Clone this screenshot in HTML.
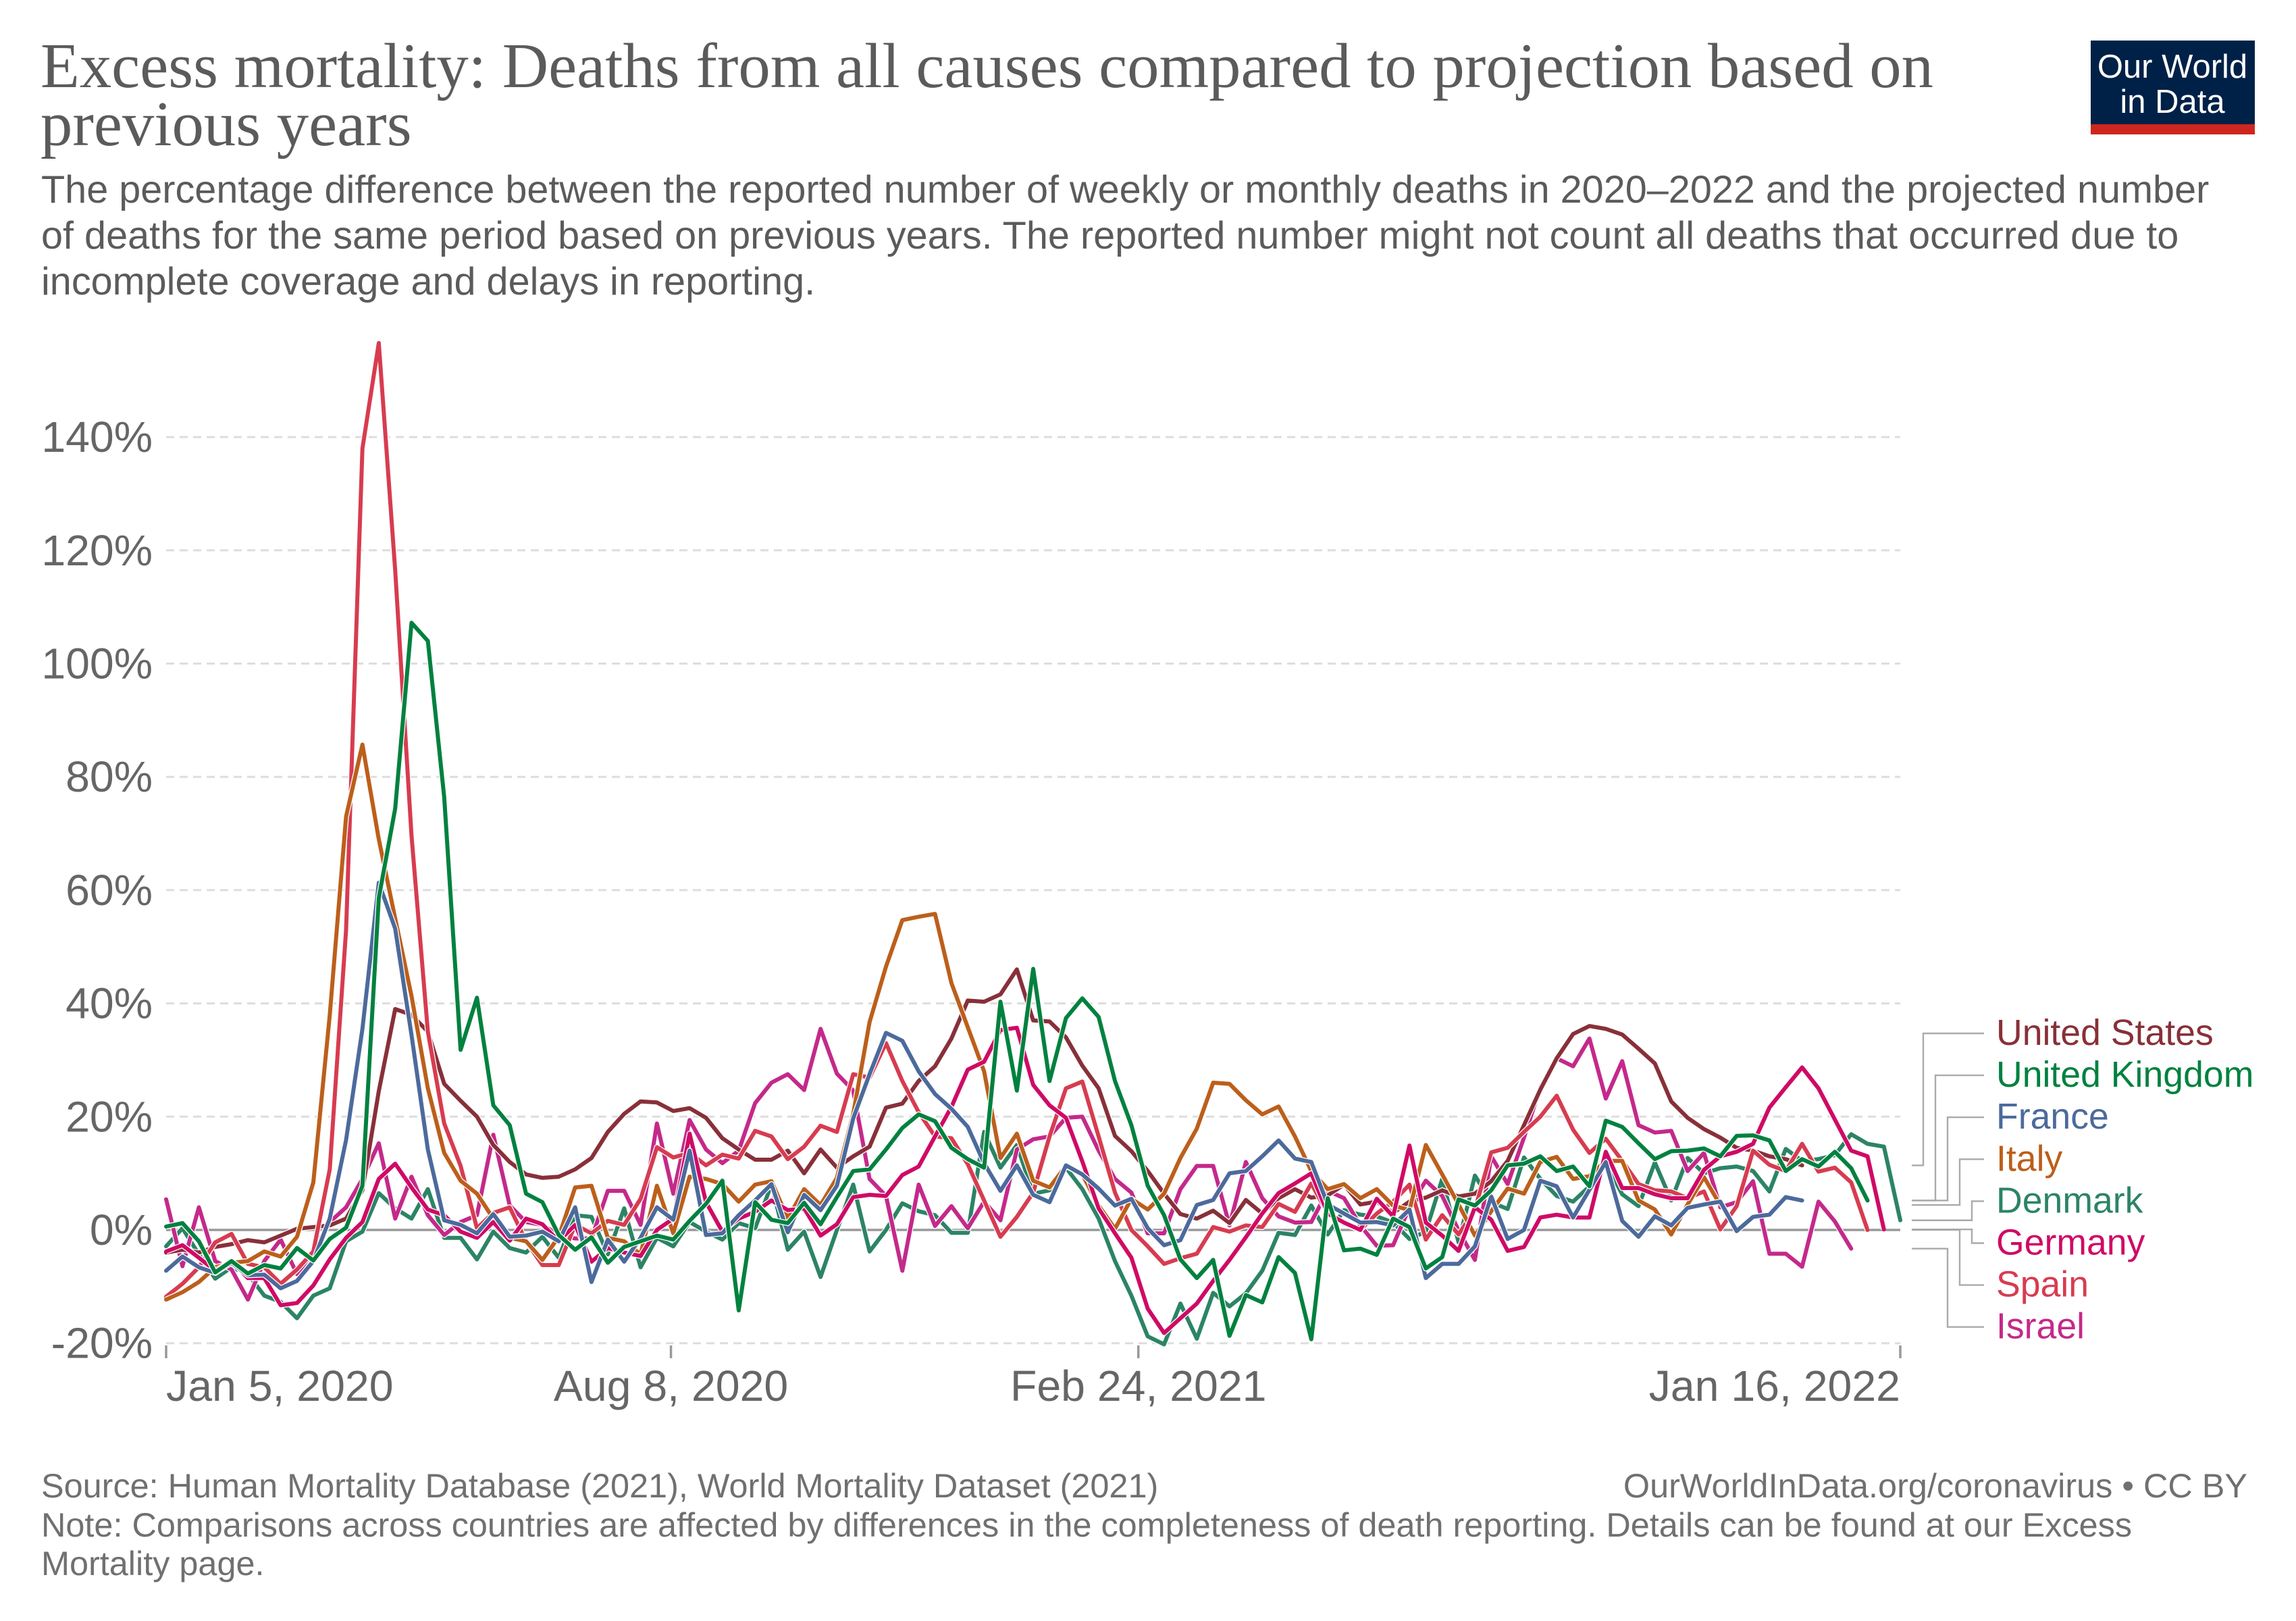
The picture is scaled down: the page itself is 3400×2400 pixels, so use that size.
<!DOCTYPE html>
<html lang="en">
<head>
<meta charset="utf-8">
<title>Excess mortality</title>
<style>
html,body{margin:0;padding:0;background:#fff;width:3400px;height:2400px;overflow:hidden}
svg{display:block}
.title{font-family:"Liberation Serif",serif;font-size:94.7px;fill:#5b5b5b}
.sub{font-family:"Liberation Sans",sans-serif;font-size:57.6px;fill:#5b5b5b}
.foot{font-family:"Liberation Sans",sans-serif;font-size:50.4px;fill:#707070}
.tick{font-family:"Liberation Sans",sans-serif;font-size:64.4px;fill:#666}
.legend{font-family:"Liberation Sans",sans-serif;font-size:53.6px}
.logo{font-family:"Liberation Sans",sans-serif;font-size:49px;fill:#fff;text-anchor:middle}
</style>
</head>
<body>
<svg id="chart" xmlns="http://www.w3.org/2000/svg" width="3400" height="2400" viewBox="0 0 3400 2400">
  <rect x="0" y="0" width="3400" height="2400" fill="#fff"/>
  <text class="title" x="60" y="129">Excess mortality: Deaths from all causes compared to projection based on</text>
  <text class="title" x="60" y="215">previous years</text>
  <text class="sub" x="61" y="300">The percentage difference between the reported number of weekly or monthly deaths in 2020–2022 and the projected number</text>
  <text class="sub" x="61" y="368">of deaths for the same period based on previous years. The reported number might not count all deaths that occurred due to</text>
  <text class="sub" x="61" y="436">incomplete coverage and delays in reporting.</text>
  <g>
    <rect x="3096" y="60" width="243" height="139" fill="#002147"/>
    <rect x="3096" y="184" width="243" height="15" fill="#ce261e"/>
    <text class="logo" x="3217" y="115">Our World</text>
    <text class="logo" x="3217" y="167">in Data</text>
  </g>
  <g id="grid"></g>
  <g id="xaxis"></g>
  <g id="marks"></g>
  <g id="legend"></g>
  <text class="foot" x="61" y="2217">Source: Human Mortality Database (2021), World Mortality Dataset (2021)</text>
  <text class="foot" x="3328" y="2217" text-anchor="end">OurWorldInData.org/coronavirus • CC BY</text>
  <text class="foot" x="61" y="2275">Note: Comparisons across countries are affected by differences in the completeness of death reporting. Details can be found at our Excess</text>
  <text class="foot" x="61" y="2332">Mortality page.</text>
</svg>
<script>
const yTickValues = [-20, 0, 20, 40, 60, 80, 100, 120, 140];
const yTickLabels = ["-20%", "0%", "20%", "40%", "60%", "80%", "100%", "120%", "140%"];
const xTickDays = [0, 216, 416, 742];
const xTickLabels = ["Jan 5, 2020", "Aug 8, 2020", "Feb 24, 2021", "Jan 16, 2022"];
const daysPerPoint = 7;

const seriesNames = ["United States", "United Kingdom", "France", "Italy", "Denmark", "Germany", "Spain", "Israel"];

const unitedStates = [-4,-3.5,-4,-3,-2.5,-1.8,-2.2,-1,0.2,0.5,0.8,2,7,24.5,39,38,35,25.8,22.8,20,15,12,9.8,9.2,9.4,10.7,12.7,17.3,20.5,22.7,22.5,21,21.5,
19.8,16.2,14.2,12.4,12.4,14,10,14.2,11,13,14.7,21.6,22.3,26.3,28.9,33.8,40.5,40.3,41.6,46,37,36.8,34,29,25,16.6,13.9,10.4,6.4,2.8,2,3.4,
1.2,5.3,2.9,5.6,7.2,5.7,6.1,8,4.5,5,3,5,5.7,7,5.9,6.4,8.6,12.2,18.5,24.8,30.3,34.6,36,35.5,34.5,32,29.4,22.7,19.8,17.8,16.3,14.5,14,13,12.5,11.4];
const unitedKingdom = [0.6,1.2,-2,-7.5,-5.5,-7.7,-6.2,-6.8,-3.2,-5.4,-1.6,0.4,7.8,
58.6,74.4,107.2,104,76.4,31.8,41,22,18.5,6.4,4.9,-0.9,-3.5,-1.3,-5.8,-3,-2,-1,-1.7,1.6,
4.6,8.7,-14.2,4.9,1.8,1.2,4.8,1,5.8,10.4,10.7,14.2,18,20.4,19.2,14.5,12.5,11,40.3,24.6,46.1,26.3,37.4,40.9,37.6,26.3,18.5,7.8,2.6,-5.2,-8.5,-5.3,
-18.7,-11.5,-12.8,-4.8,-7.6,-19.3,5.6,-3.6,-3.3,-4.4,2,0.5,-6.8,-4.8,5.4,4.3,7,11.4,11.7,13,10.4,11.2,7.7,19.3,18.2,15.3,12.5,13.9,14,14.4,13,16.6,16.7,15.8,10.4,12.5,11.2,13.8,10.9,5.2];
const france = [-7.2,-4.7,-6.6,-7.6,-5.8,-8,-7.9,-10.3,-9,-5.5,2,15.9,35.5,61.3,53.2,34.4,14.2,1.7,0.9,-0.6,2.8,-1.2,-1,-0.3,-2,4,-9.2,-1.7,-5.6,-1.4,4,1.8,14,
-0.9,-0.6,2.6,5.2,8.1,-0.4,6.2,3.5,7.8,19.7,27.5,34.8,33.4,28,24,21.4,18.2,11.8,6.9,11.4,6.2,4.9,11.4,9.8,
7.3,4.3,5.5,0.3,-2.7,-1.8,4.4,5.3,10,10.4,13,15.8,12.6,12,4.5,2.9,1.3,1.4,0.8,3.6,-8.5,-6,-6,-2.9,5.9,-1.6,0,8.7,7.7,2.2,7.1,12,1.6,-1.2,2.4,0.8,3.9,4.5,5,-0.2,2.3,2.7,5.8,5.2];
const italy = [-12.3,-11,-9.2,-6.6,-5.8,-5.5,-3.8,-4.7,-1.2,8.4,37.9,73,85.7,69,55,41.3,25,13.6,8.7,6.4,2,-1.4,-2,-5.3,-1.2,7.5,7.8,-1.4,-2,-4.3,7.8,-0.6,9.4,
9,8.1,5,8,8.6,2,7.2,4.4,9.2,20.5,36.7,46.5,54.7,55.3,55.8,43.6,35.8,28,12.7,17,8.7,7.5,11.3,9.8,4.3,0.2,5.5,3.6,6.4,12.7,17.9,26,
25.8,22.9,20.4,21.8,16.5,10.4,7.2,8.1,5.6,7.2,4.3,3.5,15,9.8,4.5,-1,3.3,7.3,6.4,12,12.9,9,9.5,12.2,12.2,5.2,3.6,-0.8,4.5,9.3,4.4];
const denmark = [-2.9,0.3,-4.3,-8.6,-6.6,-7.8,-11.6,-12.7,-15.6,-11.6,-10.3,-2,-0.3,6.5,3.8,2,7.2,-1.4,-1.4,-5.2,-0.3,-3.2,-4,-1.2,-4.9,2.6,2.3,-4.3,3.8,-6.6,-1.4,-2.9,1.4,
-0.3,-1.7,1.2,0.3,8,-3.5,-0.3,-8.3,0,8,-3.8,0,4.7,3.3,2.6,-0.5,-0.5,17.3,11,15,6.4,7,11,7.2,2,-5.5,-11.6,-18.8,-20.2,-13,-19.2,-11.1,
-13.5,-11.2,-7.2,-0.5,-0.9,4.3,-0.8,3.5,2.7,2.4,1.3,-1.6,-0.3,9,-2.2,9.6,4.9,3.7,12.8,9,6,5,7.7,11.8,6.3,4.2,11.9,5.2,12.7,10,10.9,11.2,10.4,6.8,14.3,12.2,12.5,13.2,16.9,15.2,14.7,1.7];
const germany = [-3.8,-2.7,-4.9,-7.2,-5.5,-8.5,-8.5,-13.3,-12.9,-9.8,-5.2,-1.4,1.4,9,11.7,7.5,3.6,2.6,-0.3,-1.4,1.4,-1.9,2,1,-2,0.9,-5.6,-3.2,-4,-4.6,0,2,17,
4.9,-0.3,2,3.2,5.2,3.5,3.8,-1,1,5.8,6.2,6,9.7,11.2,16.5,21.7,28.3,29.7,35.3,35.7,25.6,22,19.8,12.1,3.8,-0.6,-4.9,-13.9,-18.2,-15.6,-13,-9,
-5.3,-1.3,2.9,6.5,8.2,10,2.9,1.3,0,5.5,2.4,14.9,1.3,-1,-3.7,4,1.8,-3.7,-3,2.2,2.7,2.2,2.2,13.8,7.4,7.4,6.3,5.6,5.6,10.6,13,13.8,15.2,21.6,25.2,28.7,25,19.5,14,13,0.1];
const spain = [-11.8,-9.5,-6.6,-2.2,-0.7,-6,-6.6,-9.5,-7,-3.8,10.7,53,138,156.6,116.5,69.6,35,18.8,11.3,0.3,3,4,-2,-6.2,-6.2,0.9,-0.6,1.6,0.9,5.5,14.6,12.8,13.6,
11.4,13.3,12.6,17.5,16.5,12.5,14.7,18.4,17.3,27.5,26.9,33,26.3,20.8,16.5,16.2,11.6,5.2,-1.2,2.3,6.6,16.5,25,26.2,16.5,6.6,0,-2.9,-6,-5,-4.2,0.5,
-0.3,0.8,0.5,4.6,3.2,8.2,2.9,1.1,0,2.9,5,8,-1.7,2.6,-0.8,3.6,13.7,14.5,17.3,20,23.7,17.7,13.6,16.1,12.2,8.1,7,6.8,5.6,6.8,0.1,4.2,14,11.5,10.4,15.2,10.3,11,8.4,0];
const israel = [5.4,-6.4,4,-5.5,-7,-12.3,-5.5,-1.7,-7.8,-3.8,1.4,4,9,15.3,2,9.4,2.6,-0.9,1.4,2.6,16.8,4.3,1.4,0.9,-0.9,-1.5,-1.5,6.9,6.9,0.9,18.8,6.4,19.4,
14.2,11.8,14,22.4,26,27.5,24.7,35.5,27.6,24.6,9,6,-7.2,8,0.7,4.2,0.3,5,1.7,14.2,16,16.5,19.8,20,14,9,6.6,-0.6,-0.6,7.2,11.3,11.3,
0.8,12,5.6,2.4,1.3,1.4,6.9,5.6,0.8,-2.8,-2.7,4,8.7,6,-0.1,-5.3,13,8.1,16.3,25.2,30.3,28.9,33.8,23.2,29.8,18.5,17.2,17.5,10.4,13.6,4,4.9,8.6,-4.2,-4.2,-6.5,5,1.5,-3.3];

const seriesValues = [unitedStates, unitedKingdom, france, italy, denmark, germany, spain, israel];
const seriesColors = ["#883039", "#00813f", "#4c6a9c", "#bc5f1b", "#2c8465", "#cf0a66", "#d73c50", "#c4298a"];
const drawOrder = [4, 7, 0, 6, 3, 5, 2, 1];

const NS = "http://www.w3.org/2000/svg";
const plotLeft = 246, plotRight = 2814, zeroY = 1821, pxPerPercent = 8.385;
const lastDay = xTickDays[xTickDays.length - 1];
function xScale(day) { return plotLeft + day * (plotRight - plotLeft) / lastDay; }
function yScale(v) { return zeroY - v * pxPerPercent; }
function make(tag, attrs, parent) {
  const el = document.createElementNS(NS, tag);
  for (const k in attrs) el.setAttribute(k, attrs[k]);
  parent.appendChild(el);
  return el;
}
const grid = document.getElementById("grid");
const xaxis = document.getElementById("xaxis");
const marks = document.getElementById("marks");
const legend = document.getElementById("legend");

yTickValues.forEach(function (v, i) {
  const y = yScale(v);
  const line = make("line", { x1: plotLeft, x2: plotRight, y1: y, y2: y }, grid);
  line.setAttribute("stroke", v === 0 ? "#999" : "#ddd");
  line.setAttribute("stroke-width", v === 0 ? 3.5 : 3);
  if (v !== 0) line.setAttribute("stroke-dasharray", "12 8");
  
  
  const label = make("text", { x: 226, y: y + 22, "text-anchor": "end", class: "tick" }, grid);
  label.textContent = yTickLabels[i];
  
  
});

xTickDays.forEach(function (d, i) {
  const x = xScale(d);
  const tick = make("line", { x1: x, x2: x, y1: 1992, y2: 2011, stroke: "#999", "stroke-width": 3.5 }, xaxis);
  
  
  const anchor = i === 0 ? "start" : (i === xTickDays.length - 1 ? "end" : "middle");
  const label = make("text", { x: x, y: 2074, "text-anchor": anchor, class: "tick" }, xaxis);
  label.textContent = xTickLabels[i];
  
  
});

drawOrder.forEach(function (s) {
  const values = seriesValues[s];
  const pts = values.map(function (v, i) { return xScale(i * daysPerPoint).toFixed(1) + "," + yScale(v).toFixed(1); }).join(" ");
  const halo = make("polyline", { points: pts, fill: "none", stroke: "#fff", "stroke-width": 8.6, "stroke-linejoin": "round" }, marks);
  
  
  const line = make("polyline", { points: pts, fill: "none", stroke: seriesColors[s], "stroke-width": 6, "stroke-linejoin": "round", "stroke-linecap": "round" }, marks);
  
  
});

const legendRowTop = 1530, legendRowStep = 62.1;
const connectorLanes = [2848, 2866, 2884, 2902, 2920, 2920, 2902, 2884];
seriesNames.forEach(function (name, i) {
  const values = seriesValues[i];
  const startY = yScale(values[values.length - 1]);
  const rowY = legendRowTop + i * legendRowStep;
  const lane = connectorLanes[i];
  const path = make("polyline", { points: "2831," + startY + " " + lane + "," + startY + " " + lane + "," + rowY + " 2938," + rowY, fill: "none", stroke: "#aaa", "stroke-width": 2.4 }, legend);
  
  
  const label = make("text", { x: 2956, y: rowY + 17, class: "legend", fill: seriesColors[i] }, legend);
  label.textContent = name;
  
  
});
</script>
</body>
</html>
